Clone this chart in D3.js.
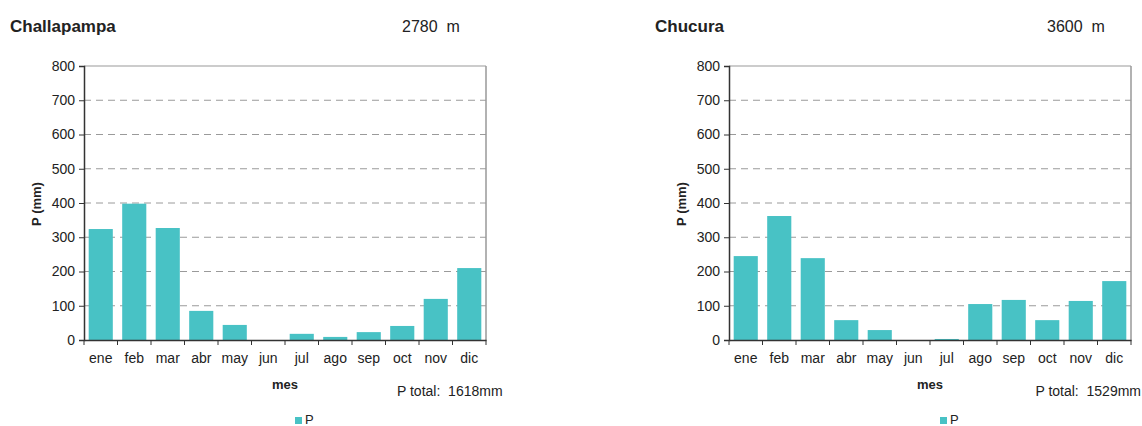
<!DOCTYPE html>
<html><head><meta charset="utf-8">
<script src="https://cdn.jsdelivr.net/npm/d3@7"></script>
<style>body{margin:0;background:#fff}svg{display:block;font-family:"Liberation Sans",Arial,sans-serif}</style>
</head><body><svg id="c" width="1142" height="426"></svg>
<script>
const months = ["ene","feb","mar","abr","may","jun","jul","ago","sep","oct","nov","dic"];
const yTicks = [0,100,200,300,400,500,600,700,800];
const stations = ["Challapampa","Chucura"];
const altitudes = ["2780  m","3600  m"];
const totals = ["P total:  1618mm","P total:  1529mm"];
const pChallapampa = [324,398,327,85,44,0,18,9,23,41,120,210];
const pChucura = [245,362,239,58,29,0,3,105,117,58,114,172];
const series = [pChallapampa, pChucura];

const svg = d3.select("#c");
const offsets = [0, 645];
const color = "#48c2c5";
const font = "Liberation Sans, Arial, sans-serif";

series.forEach((vals, i) => {
  const ox = offsets[i];
  const g = svg.append("g").attr("transform", `translate(${ox},0)`);
  const x = d3.scaleBand().domain(months).range([84, 486]).paddingInner(0.28).paddingOuter(0.14);
  const y = d3.scaleLinear().domain([0, 800]).range([340, 66]);

  g.append("g").selectAll("line").data(yTicks.filter(t => t > 0 && t < 800)).join("line")
    .attr("x1", 84).attr("x2", 486).attr("y1", d => y(d)).attr("y2", d => y(d))
    .attr("stroke", "#9a9a9a").attr("stroke-width", 1).attr("stroke-dasharray", "7,5");
  g.append("line").attr("x1", 84).attr("x2", 486).attr("y1", y(800)).attr("y2", y(800)).attr("stroke", "#999").attr("stroke-width", 1);
  g.append("line").attr("x1", 486).attr("x2", 486).attr("y1", y(800)).attr("y2", y(0)).attr("stroke", "#999").attr("stroke-width", 1.5);

  g.append("g").selectAll("rect").data(vals).join("rect")
    .attr("x", (d, j) => x(months[j])).attr("width", x.bandwidth())
    .attr("y", d => y(d)).attr("height", d => y(0) - y(d)).attr("fill", color);

  const ya = g.append("g").attr("transform", "translate(84,0)")
    .call(d3.axisLeft(y).tickValues(yTicks).tickSize(5).tickPadding(4));
  ya.select(".domain").attr("stroke", "#333").attr("stroke-width", 1.5);
  ya.selectAll(".tick line").attr("stroke", "#333");
  ya.selectAll("text").attr("font-size", 14).attr("fill", "#222").attr("font-family", font);

  const xa = g.append("g").attr("transform", "translate(0,340)")
    .call(d3.axisBottom(x).tickSize(0).tickPadding(13));
  xa.select(".domain").attr("stroke", "#333").attr("stroke-width", 1.5);
  xa.selectAll("text").attr("font-size", 14).attr("fill", "#222").attr("font-family", font);
  const bounds = d3.range(13).map(k => 84 + k * (402 / 12));
  g.append("g").selectAll("line").data(bounds).join("line")
    .attr("x1", d => d).attr("x2", d => d).attr("y1", 340).attr("y2", 345)
    .attr("stroke", "#333").attr("stroke-width", 1);

  g.append("text").attr("x", 10).attr("y", 32).attr("font-size", 17).attr("font-weight", "bold").attr("fill", "#222").text(stations[i]);
  g.append("text").attr("x", 402).attr("y", 32).attr("font-size", 16).attr("fill", "#222").style("white-space", "pre").text(altitudes[i]);
  g.append("text").attr("transform", "translate(41,204) rotate(-90)").attr("text-anchor", "middle")
    .attr("font-size", 13).attr("font-weight", "bold").attr("fill", "#222").text("P (mm)");
  g.append("text").attr("x", 285).attr("y", 389).attr("text-anchor", "middle").attr("font-size", 13).attr("font-weight", "bold").attr("fill", "#222").text("mes");
  const tot = g.append("text").attr("y", 396).attr("font-size", 14).attr("fill", "#222").style("white-space", "pre").text(totals[i]);
  if (i === 0) tot.attr("x", 397);
  else tot.attr("x", 1141 - ox).attr("text-anchor", "end");
  g.append("rect").attr("x", 295).attr("y", 417).attr("width", 7).attr("height", 7).attr("fill", color);
  g.append("text").attr("x", 305).attr("y", 424).attr("font-size", 13).attr("fill", "#222").text("P");
});
</script></body></html>
